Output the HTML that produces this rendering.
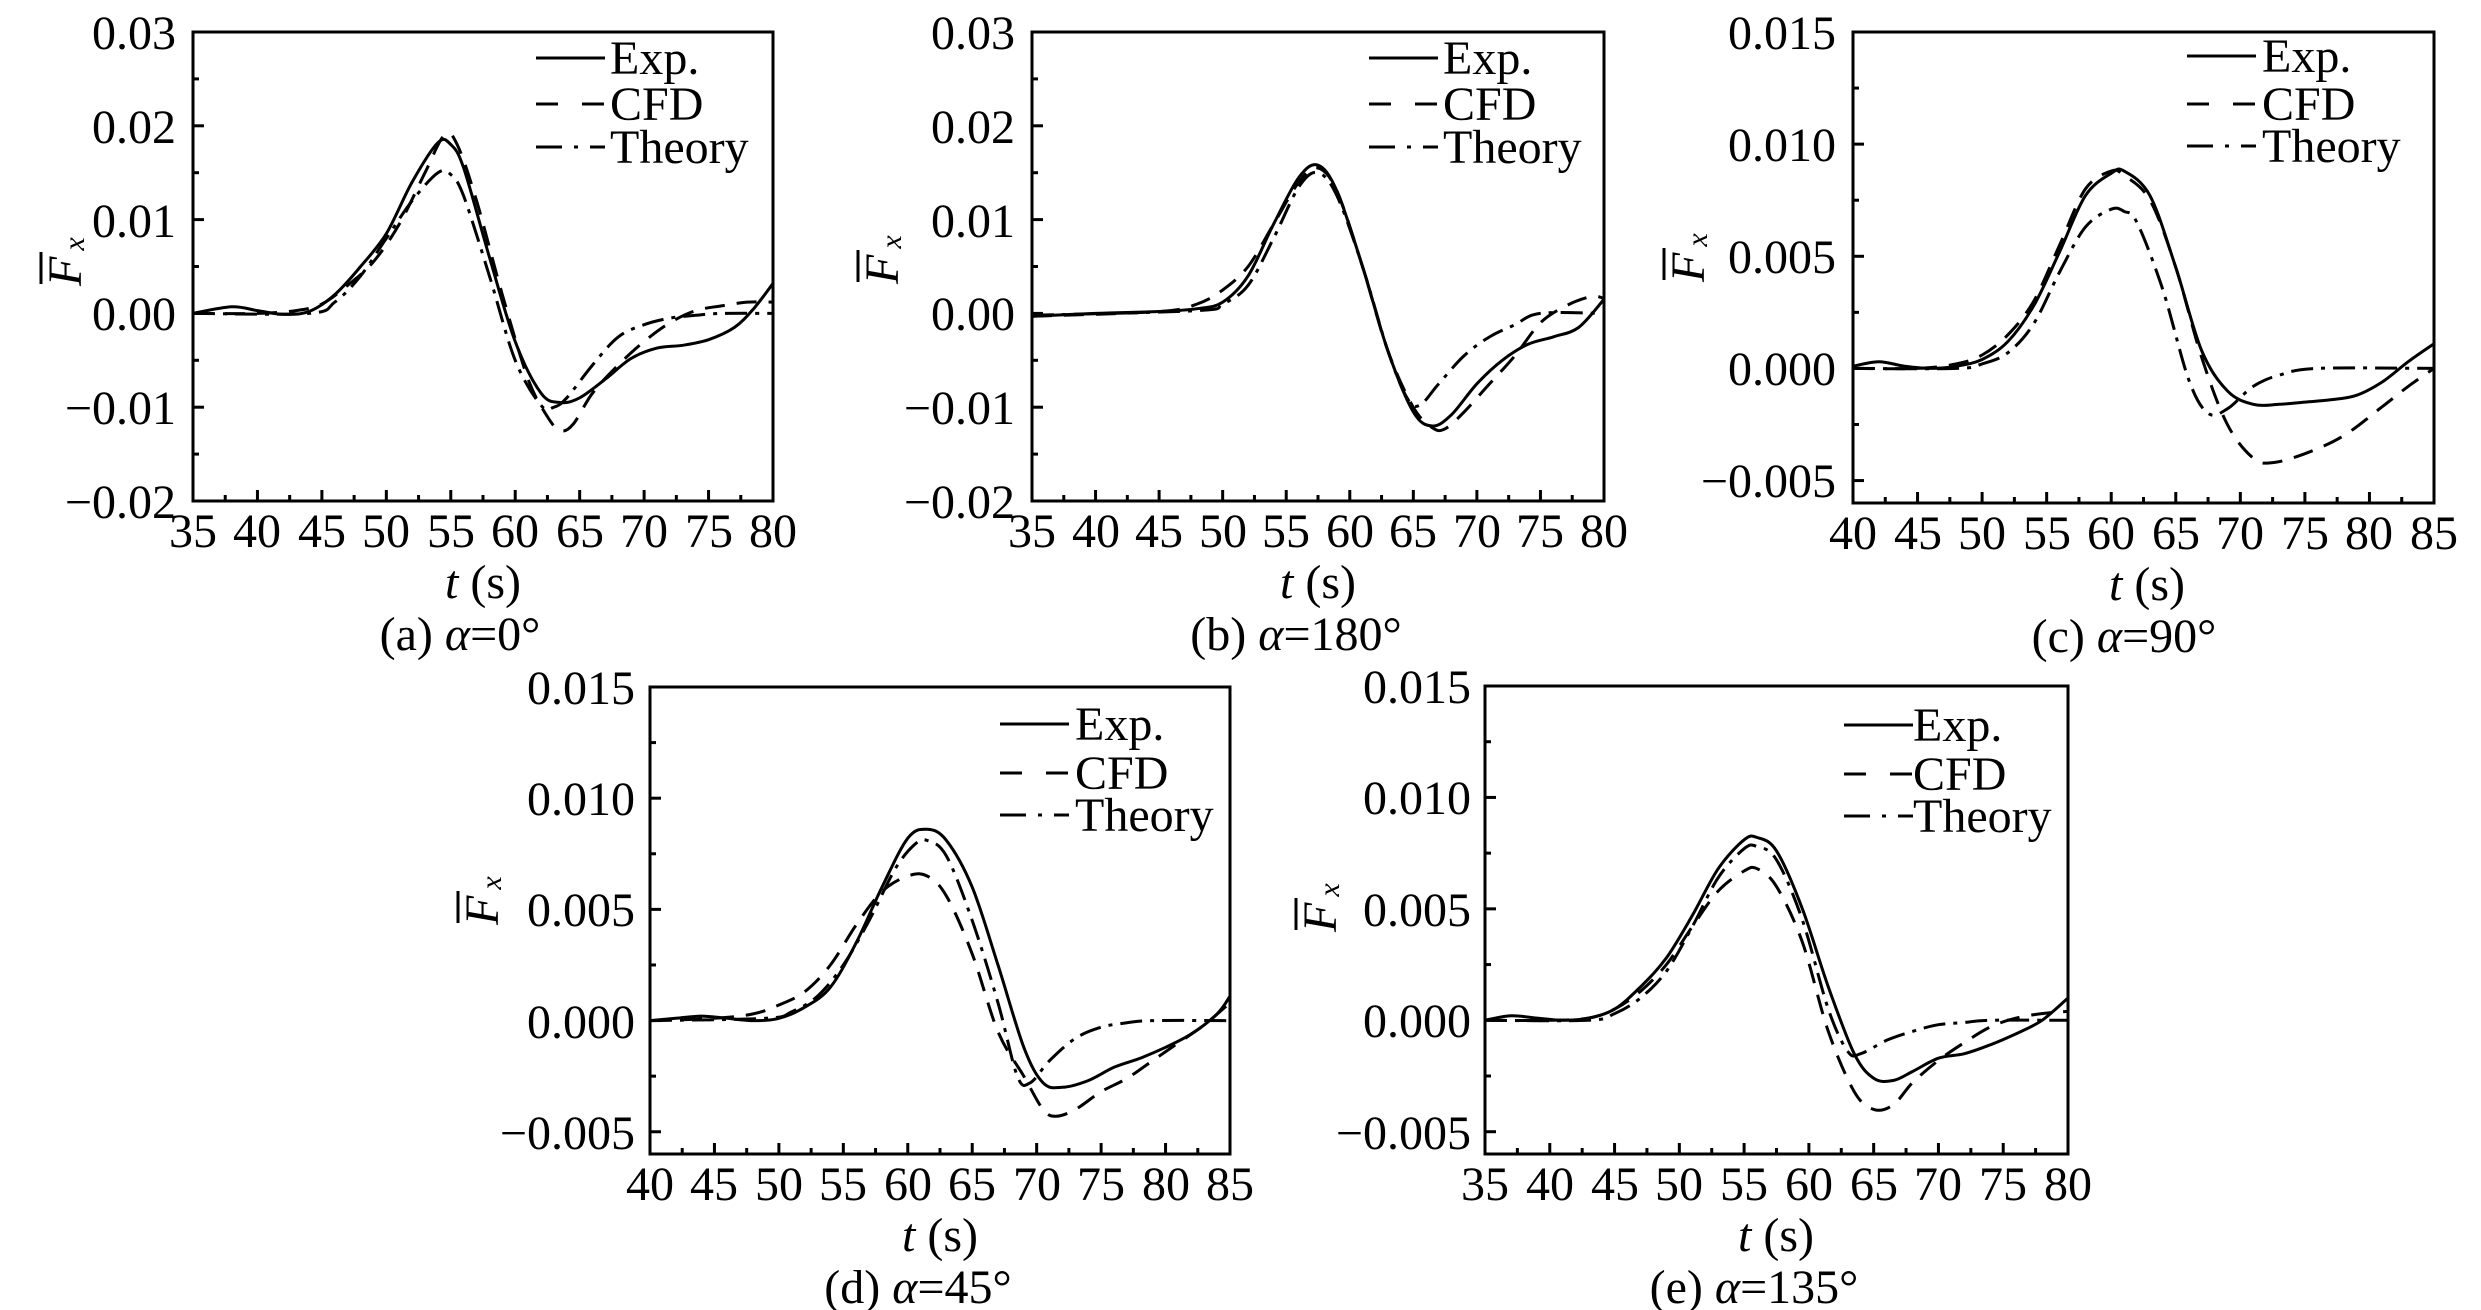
<!DOCTYPE html>
<html><head><meta charset="utf-8"><style>
html,body{margin:0;padding:0;background:#fff;}
svg{display:block;}
text{font-family:"Liberation Serif",serif;font-size:48px;fill:#000;}
.yl{text-anchor:end;}
.xl{text-anchor:middle;}
.it{font-style:italic;}
</style></head><body>
<svg id="s" width="2481" height="1310" viewBox="0 0 2481 1310" xmlns="http://www.w3.org/2000/svg">
<rect width="2481" height="1310" fill="#fff"/>
<g id="plots"></g>
<!-- Panel a -->
<text class="yl" x="176" y="49">0.03</text>
<text class="yl" x="176" y="143">0.02</text>
<text class="yl" x="176" y="237">0.01</text>
<text class="yl" x="176" y="330">0.00</text>
<text class="yl" x="176" y="424">−0.01</text>
<text class="yl" x="176" y="518">−0.02</text>
<text class="xl" x="193" y="547">35</text><text class="xl" x="257" y="547">40</text><text class="xl" x="322" y="547">45</text><text class="xl" x="386" y="547">50</text><text class="xl" x="451" y="547">55</text><text class="xl" x="515" y="547">60</text><text class="xl" x="580" y="547">65</text><text class="xl" x="644" y="547">70</text><text class="xl" x="709" y="547">75</text><text class="xl" x="773" y="547">80</text>
<text class="xl" x="483" y="598"><tspan class="it">t</tspan> (s)</text>
<text class="xl" x="460" y="650">(a) <tspan class="it">α</tspan>=0°</text>
<text x="610" y="74">Exp.</text><text x="610" y="120">CFD</text><text x="610" y="163">Theory</text>
<!-- Panel b -->
<text class="yl" x="1015" y="49">0.03</text>
<text class="yl" x="1015" y="143">0.02</text>
<text class="yl" x="1015" y="237">0.01</text>
<text class="yl" x="1015" y="330">0.00</text>
<text class="yl" x="1015" y="424">−0.01</text>
<text class="yl" x="1015" y="518">−0.02</text>
<text class="xl" x="1032" y="547">35</text><text class="xl" x="1096" y="547">40</text><text class="xl" x="1159" y="547">45</text><text class="xl" x="1223" y="547">50</text><text class="xl" x="1286" y="547">55</text><text class="xl" x="1350" y="547">60</text><text class="xl" x="1413" y="547">65</text><text class="xl" x="1477" y="547">70</text><text class="xl" x="1540" y="547">75</text><text class="xl" x="1604" y="547">80</text>
<text class="xl" x="1318" y="598"><tspan class="it">t</tspan> (s)</text>
<text class="xl" x="1296" y="650">(b) <tspan class="it">α</tspan>=180°</text>
<text x="1443" y="74">Exp.</text><text x="1443" y="120">CFD</text><text x="1443" y="163">Theory</text>
<!-- Panel c -->
<text class="yl" x="1836" y="49">0.015</text>
<text class="yl" x="1836" y="161">0.010</text>
<text class="yl" x="1836" y="273">0.005</text>
<text class="yl" x="1836" y="385">0.000</text>
<text class="yl" x="1836" y="497">−0.005</text>
<text class="xl" x="1853" y="549">40</text><text class="xl" x="1918" y="549">45</text><text class="xl" x="1982" y="549">50</text><text class="xl" x="2047" y="549">55</text><text class="xl" x="2111" y="549">60</text><text class="xl" x="2176" y="549">65</text><text class="xl" x="2240" y="549">70</text><text class="xl" x="2305" y="549">75</text><text class="xl" x="2369" y="549">80</text><text class="xl" x="2434" y="549">85</text>
<text class="xl" x="2147" y="600"><tspan class="it">t</tspan> (s)</text>
<text class="xl" x="2124" y="652">(c) <tspan class="it">α</tspan>=90°</text>
<text x="2262" y="72">Exp.</text><text x="2262" y="120">CFD</text><text x="2262" y="162">Theory</text>
<!-- Panel d -->
<text class="yl" x="635" y="704">0.015</text>
<text class="yl" x="635" y="815">0.010</text>
<text class="yl" x="635" y="926">0.005</text>
<text class="yl" x="635" y="1038">0.000</text>
<text class="yl" x="635" y="1149">−0.005</text>
<text class="xl" x="650" y="1200">40</text><text class="xl" x="714" y="1200">45</text><text class="xl" x="779" y="1200">50</text><text class="xl" x="843" y="1200">55</text><text class="xl" x="908" y="1200">60</text><text class="xl" x="972" y="1200">65</text><text class="xl" x="1037" y="1200">70</text><text class="xl" x="1101" y="1200">75</text><text class="xl" x="1166" y="1200">80</text><text class="xl" x="1230" y="1200">85</text>
<text class="xl" x="940" y="1251"><tspan class="it">t</tspan> (s)</text>
<text class="xl" x="918" y="1303">(d) <tspan class="it">α</tspan>=45°</text>
<text x="1075" y="740">Exp.</text><text x="1075" y="789">CFD</text><text x="1075" y="831">Theory</text>
<!-- Panel e -->
<text class="yl" x="1471" y="703">0.015</text>
<text class="yl" x="1471" y="814">0.010</text>
<text class="yl" x="1471" y="926">0.005</text>
<text class="yl" x="1471" y="1037">0.000</text>
<text class="yl" x="1471" y="1149">−0.005</text>
<text class="xl" x="1485" y="1200">35</text><text class="xl" x="1550" y="1200">40</text><text class="xl" x="1615" y="1200">45</text><text class="xl" x="1679" y="1200">50</text><text class="xl" x="1744" y="1200">55</text><text class="xl" x="1809" y="1200">60</text><text class="xl" x="1874" y="1200">65</text><text class="xl" x="1938" y="1200">70</text><text class="xl" x="2003" y="1200">75</text><text class="xl" x="2068" y="1200">80</text>
<text class="xl" x="1776" y="1251"><tspan class="it">t</tspan> (s)</text>
<text class="xl" x="1754" y="1303">(e) <tspan class="it">α</tspan>=135°</text>
<text x="1913" y="741">Exp.</text><text x="1913" y="790">CFD</text><text x="1913" y="832">Theory</text>
<!-- Y axis labels -->
<g id="ylab">
<text transform="translate(81,286) rotate(-90)"><tspan class="it">F</tspan><tspan class="it" font-size="30" dx="6" dy="3">x</tspan></text>
<text transform="translate(898,284) rotate(-90)"><tspan class="it">F</tspan><tspan class="it" font-size="30" dx="6" dy="3">x</tspan></text>
<text transform="translate(1704,282) rotate(-90)"><tspan class="it">F</tspan><tspan class="it" font-size="30" dx="6" dy="3">x</tspan></text>
<text transform="translate(498,925) rotate(-90)"><tspan class="it">F</tspan><tspan class="it" font-size="30" dx="6" dy="3">x</tspan></text>
<text transform="translate(1336,932) rotate(-90)"><tspan class="it">F</tspan><tspan class="it" font-size="30" dx="6" dy="3">x</tspan></text>
</g>
<g stroke="#000" stroke-width="3">
<line x1="41" y1="252" x2="41" y2="284"/>
<line x1="858" y1="250" x2="858" y2="282"/>
<line x1="1664" y1="248" x2="1664" y2="280"/>
<line x1="458" y1="891" x2="458" y2="923"/>
<line x1="1296" y1="898" x2="1296" y2="930"/>
</g>
</svg>
<script>
var NS="http://www.w3.org/2000/svg",G=document.getElementById("plots");
function el(n,a){var e=document.createElementNS(NS,n);for(var k in a)e.setAttribute(k,a[k]);G.appendChild(e);return e;}
var DASH="20 12",DD="22 8 4 8";
var P=[
{L:193,R:773,T:32,B:501,x0:35,x1:80,y0:-0.02,y1:0.03,yt:[0.03,0.02,0.01,0,-0.01,-0.02],lx:536,ly:[58,104,147],
E:[[35,0],[38,0.0007],[40,0.0003],[42,-0.0001],[44,0.0002],[46,0.002],[48,0.005],[50,0.0085],[52,0.014],[54,0.0182],[55,0.018],[56,0.0155],[58,0.006],[60,-0.003],[62,-0.0085],[63.5,-0.0095],[65,-0.009],[67,-0.007],[69,-0.0048],[71,-0.0037],[73,-0.0034],[75,-0.0028],[77,-0.0015],[78.5,0.0005],[80,0.0032]],
C:[[35,0],[40,0],[43,0.0003],[45,0.001],[47,0.003],[49,0.0055],[51,0.0095],[53,0.015],[54.5,0.019],[55.5,0.018],[57,0.012],[59,0.002],[61,-0.007],[62.5,-0.011],[63.5,-0.0125],[64.5,-0.0118],[66,-0.0085],[68,-0.0055],[70,-0.003],[72,-0.001],[74,0.0003],[76,0.0008],[78,0.0012],[80,0.0012]],
H:[[35,0],[44,0],[46,0.0012],[48,0.004],[50,0.008],[52,0.012],[54,0.015],[55,0.0148],[56,0.0125],[58,0.004],[60,-0.005],[62,-0.0098],[63,-0.01],[64,-0.009],[66,-0.0055],[68,-0.0025],[70,-0.0012],[72,-0.0005],[74,-0.0002],[76,0],[80,0]]},
{L:1032,R:1604,T:32,B:501,x0:35,x1:80,y0:-0.02,y1:0.03,yt:[0.03,0.02,0.01,0,-0.01,-0.02],lx:1369,ly:[58,104,147],
E:[[35,-0.0003],[40,0],[45,0.0002],[48,0.0005],[50,0.0012],[52,0.004],[54,0.0095],[56,0.0145],[57.5,0.0158],[59,0.013],[61,0.005],[63,-0.004],[65,-0.0105],[66.5,-0.012],[68,-0.0108],[70,-0.0075],[72,-0.005],[74,-0.0033],[76,-0.0025],[78,-0.0015],[80,0.0015]],
C:[[35,-0.0003],[45,0.0002],[48,0.001],[50,0.0025],[52,0.005],[54,0.0095],[56,0.014],[57.5,0.0155],[59,0.013],[61,0.005],[63,-0.004],[65,-0.01],[66.5,-0.0122],[67.5,-0.0123],[69,-0.0105],[71,-0.0075],[73,-0.0045],[75,-0.001],[77,0.0008],[79,0.0018],[80,0.0016]],
H:[[35,-0.0002],[48,0.0003],[50,0.001],[52,0.003],[54,0.008],[56,0.0135],[57.5,0.015],[59,0.0125],[61,0.005],[63,-0.004],[64.5,-0.009],[65.5,-0.0098],[67,-0.0075],[69,-0.0045],[71,-0.0025],[73,-0.0012],[75,0],[80,0]]},
{L:1853,R:2434,T:32,B:503,x0:40,x1:85,y0:-0.006,y1:0.015,yt:[0.015,0.01,0.005,0,-0.005],lx:2187,ly:[56,104,146],
E:[[40,0.0001],[42,0.0003],[44,0.0001],[46,0],[48,0.0001],[50,0.0004],[52,0.0012],[54,0.0028],[56,0.0052],[58,0.0077],[60,0.0087],[61,0.0088],[63,0.0077],[65,0.0045],[67,0.0008],[69,-0.001],[71,-0.0016],[73,-0.0016],[75,-0.0015],[77,-0.0014],[79,-0.0012],[81,-0.0006],[83,0.0003],[85,0.0011]],
C:[[40,0],[45,0],[48,0.0002],[50,0.0006],[52,0.0015],[54,0.003],[56,0.0055],[58,0.008],[60,0.0088],[61,0.0086],[63,0.0075],[65,0.0045],[67,0.0005],[69,-0.0025],[71,-0.004],[72.5,-0.0042],[75,-0.0038],[78,-0.003],[81,-0.0017],[83,-0.0008],[85,0]],
H:[[40,0],[48,0],[50,0.0002],[52,0.0007],[54,0.002],[56,0.0043],[58,0.0063],[60,0.0071],[61,0.007],[62,0.0065],[64,0.0035],[66,-0.0005],[67.5,-0.002],[69,-0.0018],[71,-0.0008],[73,-0.0003],[76,0],[85,0]]},
{L:650,R:1230,T:687,B:1154,x0:40,x1:85,y0:-0.006,y1:0.015,yt:[0.015,0.01,0.005,0,-0.005],lx:1000,ly:[724,773,815],
E:[[40,0],[42,0.0001],[44,0.0002],[46,0.0001],[48,0],[50,0.0001],[52,0.0006],[54,0.0015],[56,0.0035],[58,0.006],[60,0.0082],[61.5,0.0086],[63,0.0081],[65,0.006],[67,0.0025],[69,-0.0012],[70.5,-0.0028],[72,-0.003],[74,-0.0027],[76,-0.0021],[78,-0.0017],[80,-0.0012],[82,-0.0006],[84,0.0003],[85,0.0011]],
C:[[40,0],[45,0.0001],[48,0.0003],[50,0.0007],[52,0.0013],[54,0.0025],[56,0.0043],[58,0.0058],[60,0.0065],[61.5,0.0065],[63,0.0056],[65,0.003],[67,-0.0005],[69,-0.0025],[70.5,-0.004],[71.5,-0.0043],[73,-0.004],[75,-0.0032],[77,-0.0026],[79,-0.0018],[81,-0.001],[83,-0.0002],[85,0.0008]],
H:[[40,0],[49,0.0001],[51,0.0004],[53,0.0011],[55,0.0025],[57,0.0045],[59,0.0068],[60.5,0.0079],[61.5,0.0081],[63,0.0074],[65,0.0045],[67,0.0008],[68.5,-0.0025],[69.5,-0.0028],[71,-0.0018],[73,-0.0008],[75,-0.0003],[77,-0.0001],[79,0],[85,0]]},
{L:1485,R:2068,T:686,B:1154,x0:35,x1:80,y0:-0.006,y1:0.015,yt:[0.015,0.01,0.005,0,-0.005],lx:1844,ly:[725,774,816],
E:[[35,0],[37,0.0002],[39,0.0001],[41,0],[43,0.0001],[45,0.0005],[47,0.0015],[49,0.0028],[51,0.0047],[53,0.0068],[55,0.0081],[56,0.0082],[57.5,0.0076],[59.5,0.005],[61.5,0.0015],[63.5,-0.0015],[65,-0.0026],[66.5,-0.0027],[68,-0.0023],[70,-0.0017],[72,-0.0015],[74,-0.0011],[76,-0.0006],[78,0],[80,0.001]],
C:[[35,0],[40,0],[43,0.0001],[45,0.0005],[47,0.0013],[49,0.0025],[51,0.0042],[53,0.0058],[55,0.0067],[56,0.0068],[57.5,0.006],[59.5,0.0035],[61.5,-0.0005],[63.5,-0.0032],[65,-0.004],[66.5,-0.0038],[68,-0.0028],[70,-0.0018],[72,-0.001],[74,-0.0003],[76,0.0001],[78,0.0003],[80,0.0004]],
H:[[35,0],[43,0],[45,0.0003],[47,0.001],[49,0.0022],[51,0.0042],[53,0.0064],[55,0.0077],[56,0.0078],[57.5,0.0072],[59.5,0.0045],[61.5,0.0005],[63,-0.0014],[64,-0.0015],[66,-0.0009],[68,-0.0005],[70,-0.0002],[72,-0.0001],[74,0],[80,0]]}
];
function path(p,d){
  var X=function(t){return p.L+(t-p.x0)/(p.x1-p.x0)*(p.R-p.L)},Y=function(v){return p.B-(v-p.y0)/(p.y1-p.y0)*(p.B-p.T)};
  var q=d.map(function(a){return [X(a[0]),Y(a[1])]});
  var s="M"+q[0][0].toFixed(1)+","+q[0][1].toFixed(1);
  for(var i=0;i<q.length-1;i++){
    var p0=q[Math.max(i-1,0)],p1=q[i],p2=q[i+1],p3=q[Math.min(i+2,q.length-1)];
    var c1=[p1[0]+(p2[0]-p0[0])/6,p1[1]+(p2[1]-p0[1])/6],c2=[p2[0]-(p3[0]-p1[0])/6,p2[1]-(p3[1]-p1[1])/6];
    s+="C"+c1[0].toFixed(1)+","+c1[1].toFixed(1)+" "+c2[0].toFixed(1)+","+c2[1].toFixed(1)+" "+p2[0].toFixed(1)+","+p2[1].toFixed(1);
  }
  return s;
}
P.forEach(function(p){
  var Y=function(v){return p.B-(v-p.y0)/(p.y1-p.y0)*(p.B-p.T)};
  var cp="c"+p.L;
  var cl=el("clipPath",{id:cp});var r=document.createElementNS(NS,"rect");
  r.setAttribute("x",p.L);r.setAttribute("y",p.T);r.setAttribute("width",p.R-p.L);r.setAttribute("height",p.B-p.T);cl.appendChild(r);
  el("path",{d:path(p,p.E),fill:"none",stroke:"#000","stroke-width":3,"clip-path":"url(#"+cp+")"});
  el("path",{d:path(p,p.C),fill:"none",stroke:"#000","stroke-width":3,"stroke-dasharray":DASH,"clip-path":"url(#"+cp+")"});
  el("path",{d:path(p,p.H),fill:"none",stroke:"#000","stroke-width":3,"stroke-dasharray":DD,"clip-path":"url(#"+cp+")"});
  el("rect",{x:p.L,y:p.T,width:p.R-p.L,height:p.B-p.T,fill:"none",stroke:"#000","stroke-width":3});
  var n=(p.x1-p.x0)/2.5;
  for(var i=1;i<n;i++){var x=p.L+i/n*(p.R-p.L);el("line",{x1:x,x2:x,y1:p.B,y2:p.B-(i%2?6:11),stroke:"#000","stroke-width":3});}
  var st=p.yt[0]-p.yt[1];
  for(var v=p.y0+1e-9;v<p.y1-1e-6;v+=st/2){}
  for(var k=0;k<p.yt.length;k++){var y=Y(p.yt[k]);el("line",{x1:p.L,x2:p.L+11,y1:y,y2:y,stroke:"#000","stroke-width":3});
    var ym=Y(p.yt[k]-st/2);if(ym<p.B-2)el("line",{x1:p.L,x2:p.L+6,y1:ym,y2:ym,stroke:"#000","stroke-width":3});}
  el("line",{x1:p.lx,x2:p.lx+69,y1:p.ly[0],y2:p.ly[0],stroke:"#000","stroke-width":3});
  el("line",{x1:p.lx,x2:p.lx+69,y1:p.ly[1],y2:p.ly[1],stroke:"#000","stroke-width":3,"stroke-dasharray":"22 24"});
  el("line",{x1:p.lx,x2:p.lx+69,y1:p.ly[2],y2:p.ly[2],stroke:"#000","stroke-width":3,"stroke-dasharray":"26 12 4 12"});
});
</script>
</body></html>
